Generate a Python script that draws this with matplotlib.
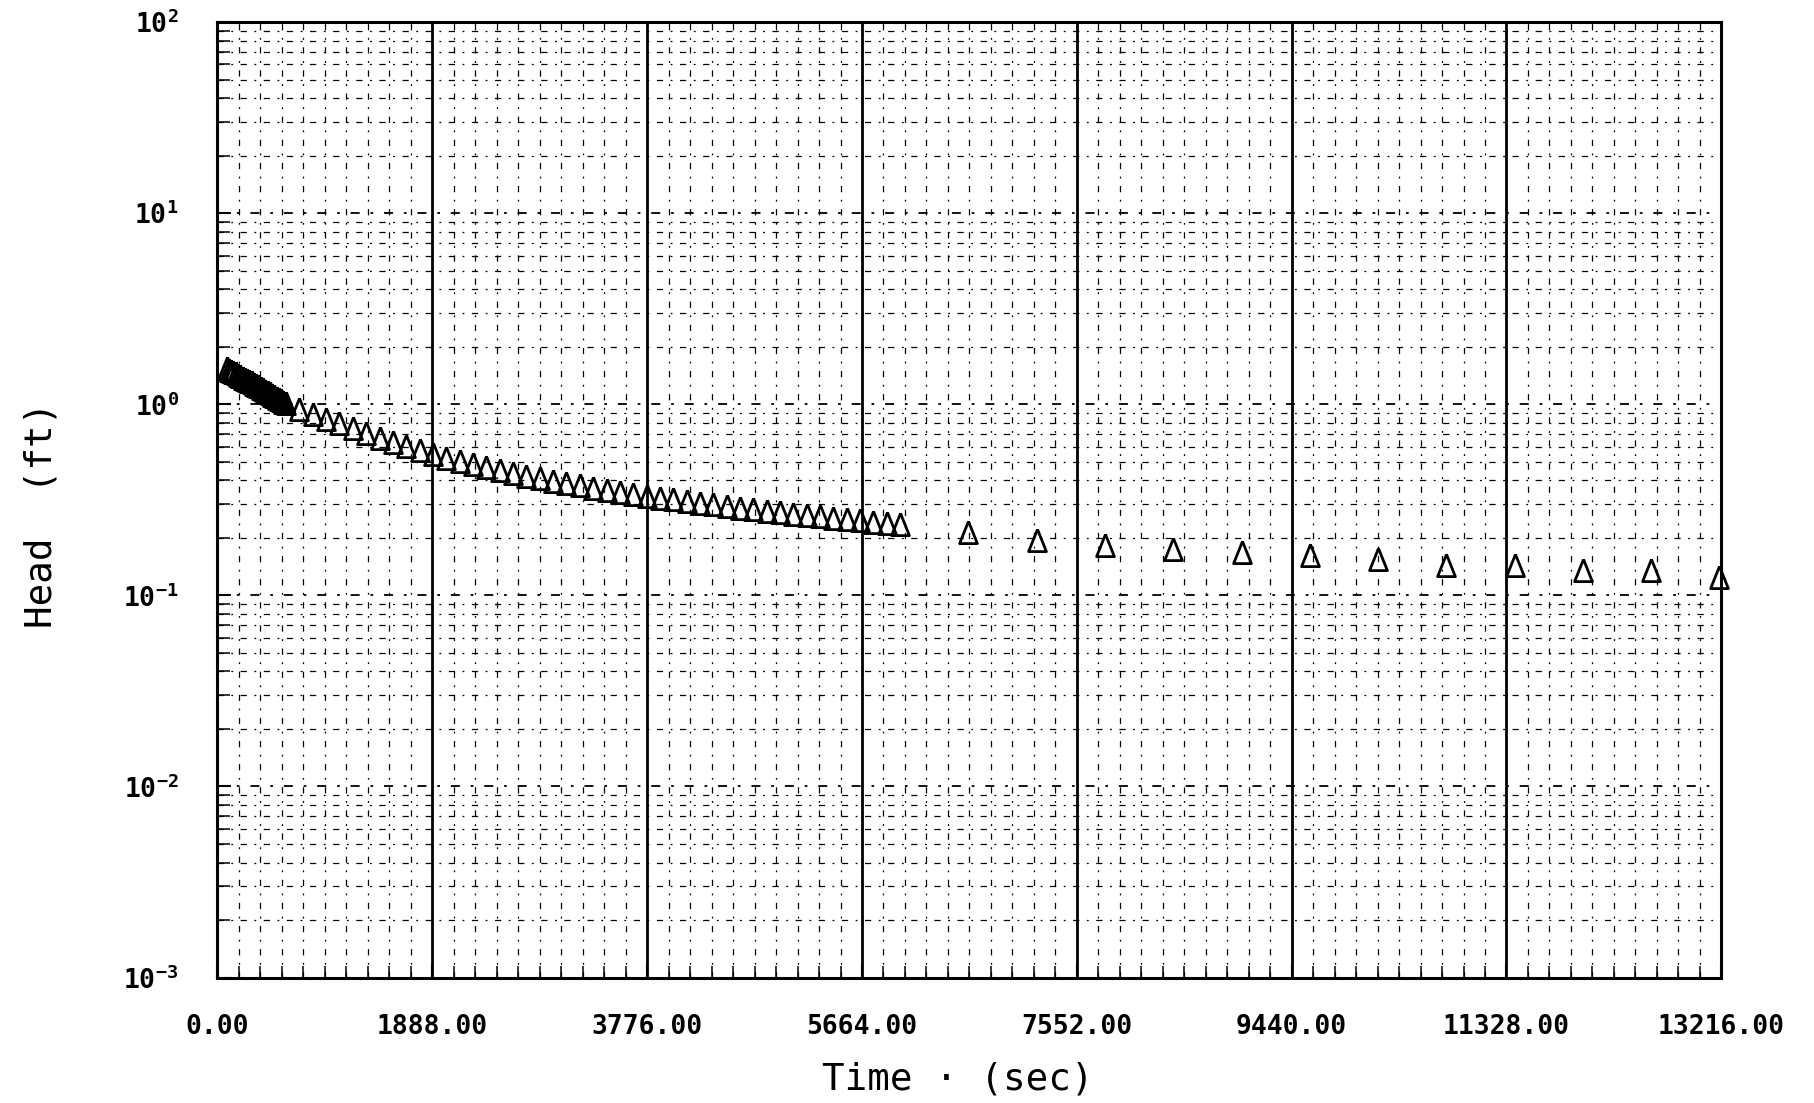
import numpy as np
import matplotlib.pyplot as plt
from matplotlib.ticker import MultipleLocator, LogLocator, NullFormatter

plt.rcParams['mathtext.fontset'] = 'custom'
plt.rcParams['mathtext.rm'] = 'DejaVu Sans Mono'
plt.rcParams['mathtext.bf'] = 'DejaVu Sans Mono:bold'
plt.rcParams['mathtext.default'] = 'bf'

# early readings: markers overlap into a solid band
t_early = [80, 100, 120, 140, 160, 180, 200, 220, 240, 260, 280, 300, 320, 340,
           360, 380, 400, 420, 440, 460, 480, 500, 520, 540, 560, 580, 600]
h_early = [1.55, 1.52, 1.50, 1.48, 1.45, 1.43, 1.41, 1.38, 1.36, 1.34, 1.32, 1.30,
           1.28, 1.26, 1.24, 1.22, 1.20, 1.18, 1.16, 1.14, 1.12, 1.10, 1.08, 1.06,
           1.05, 1.03, 1.01]

# closely spaced readings
t_mid = [720, 837, 955, 1072, 1189, 1307, 1424, 1541, 1659, 1776, 1893, 2011,
         2128, 2245, 2363, 2480, 2597, 2715, 2832, 2949, 3067, 3184, 3301, 3419,
         3536, 3653, 3771, 3888, 4005, 4123, 4240, 4357, 4475, 4592, 4709, 4827,
         4944, 5061, 5179, 5296, 5413, 5531, 5648, 5765, 5883, 6000]
h_mid = [0.944, 0.889, 0.841, 0.794, 0.750, 0.708, 0.670, 0.635, 0.604, 0.575,
         0.550, 0.526, 0.505, 0.485, 0.468, 0.452, 0.437, 0.423, 0.410, 0.398,
         0.387, 0.377, 0.366, 0.357, 0.348, 0.340, 0.332, 0.324, 0.318, 0.311,
         0.305, 0.299, 0.293, 0.288, 0.282, 0.277, 0.272, 0.268, 0.263, 0.259,
         0.255, 0.251, 0.247, 0.243, 0.239, 0.236]

# late readings, every 600 s
t_late = [6600, 7200, 7800, 8400, 9000, 9600, 10200, 10800, 11400, 12000, 12600, 13200]
h_late = [0.214, 0.195, 0.183, 0.175, 0.169, 0.163, 0.155, 0.144, 0.144, 0.1355,
          0.135, 0.125]

x_ticks = [0, 1888, 3776, 5664, 7552, 9440, 11328, 13216]
x_tick_labels = ['0.00', '1888.00', '3776.00', '5664.00', '7552.00', '9440.00',
                 '11328.00', '13216.00']
y_ticks = [1e-3, 1e-2, 1e-1, 1e0, 1e1, 1e2]
y_tick_labels = [r'$10^{-3}$', r'$10^{-2}$', r'$10^{-1}$', r'$10^{0}$',
                 r'$10^{1}$', r'$10^{2}$']

tri = [(0, 1), (-0.8, -1), (0.8, -1), (0, 1)]

fig = plt.figure(figsize=(18.14, 11.03), dpi=100)
ax = fig.add_axes([0.1199, 0.1137, 0.829, 0.8663])

ax.set_yscale('log')
ax.set_xlim(0, 13216)
ax.set_ylim(1e-3, 1e2)

ax.set_xticks(x_ticks)
ax.set_xticklabels(x_tick_labels, family='DejaVu Sans Mono', fontsize=19,
                   fontweight='bold')
ax.xaxis.set_minor_locator(MultipleLocator(188.8))
ax.set_yticks(y_ticks)
ax.set_yticklabels(y_tick_labels, fontsize=19)
ax.yaxis.set_minor_locator(LogLocator(base=10, subs=np.arange(2, 10)))
ax.yaxis.set_minor_formatter(NullFormatter())

dash = (0, (5, 6, 1.5, 6))
ax.grid(which='major', axis='x', color='black', lw=2.0, ls='-')
ax.grid(which='minor', axis='x', color='black', lw=0.9, ls=dash)
ax.grid(which='major', axis='y', color='black', lw=1.3, ls=dash)
ax.grid(which='minor', axis='y', color='black', lw=0.9, ls=dash)

ax.tick_params(which='both', direction='in', top=False, right=False, color='black')
ax.tick_params(which='major', length=10, width=1.5)
ax.tick_params(which='minor', length=9, width=1.1)
ax.tick_params(axis='x', which='major', pad=26)
ax.tick_params(axis='y', which='major', pad=28)

for sp in ax.spines.values():
    sp.set_linewidth(2.2)
    sp.set_color('black')

for t, h in [(t_early, h_early), (t_mid, h_mid), (t_late, h_late)]:
    ax.plot(t, h, linestyle='none', marker=tri, ms=16, mfc='none',
            mec='black', mew=2.0, clip_on=False, zorder=3)

fig.text(0.528, 0.021, 'Time \u00b7 (sec)', family='DejaVu Sans Mono',
         fontsize=27, ha='center', va='center')
fig.text(0.023, 0.533, 'Head  (ft)', family='DejaVu Sans Mono', fontsize=27,
         rotation=90, ha='center', va='center')

fig.savefig('out.png', dpi=100)
